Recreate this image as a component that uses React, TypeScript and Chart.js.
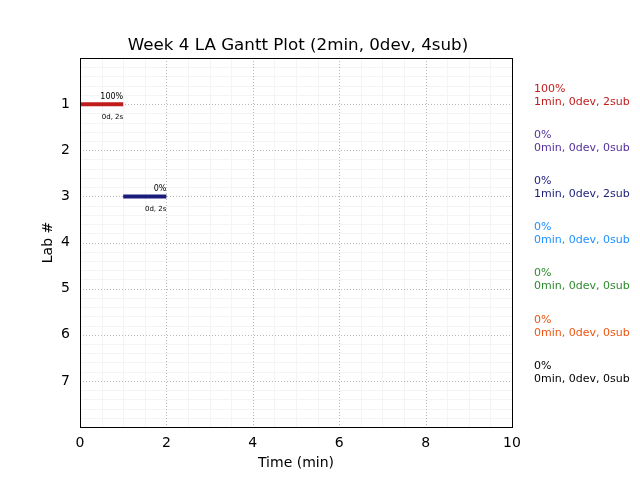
import React, { useEffect, useRef } from "react";
import { Chart, registerables } from "chart.js";

Chart.register(...registerables);

const labs = [1, 2, 3, 4, 5, 6, 7];
const labColors = ["#c01c1c", "#54309f", "#1c1c7a", "#1e90ff", "#2e8b2e", "#ee5511", "#000000"];
const barStarts: (number | null)[] = [0, null, 1, null, null, null, null];
const barEnds: (number | null)[] = [1, null, 2, null, null, null, null];
const barPctLabels = ["100%", "", "0%", "", "", "", ""];
const barTimeLabels = ["0d, 2s", "", "0d, 2s", "", "", "", ""];
const sidePct = ["100%", "0%", "0%", "0%", "0%", "0%", "0%"];
const sideSummary = [
  "1min, 0dev, 2sub",
  "0min, 0dev, 0sub",
  "1min, 0dev, 2sub",
  "0min, 0dev, 0sub",
  "0min, 0dev, 0sub",
  "0min, 0dev, 0sub",
  "0min, 0dev, 0sub",
];
const xTicks = [0, 2, 4, 6, 8, 10];
const titleText = "Week 4 LA Gantt Plot (2min, 0dev, 4sub)";
const xTitle = "Time (min)";
const yTitle = "Lab #";

const FONT = "'DejaVu Sans', sans-serif";

const mplPlugin = {
  id: "mplDecor",
  beforeDatasetsDraw(chart: any) {
    const { ctx, chartArea, scales } = chart;
    const { left, right, top, bottom } = chartArea;
    const x = scales.x;
    const y = scales.y;
    ctx.save();
    // minor grid
    ctx.strokeStyle = "#f4f4f4";
    ctx.lineWidth = 1;
    ctx.setLineDash([]);
    for (let v = 0.5; v < 10; v += 0.5) {
      if (Math.abs(v % 2) < 1e-6) continue;
      const px = Math.round(x.getPixelForValue(v)) + 0.5;
      ctx.beginPath();
      ctx.moveTo(px, top);
      ctx.lineTo(px, bottom);
      ctx.stroke();
    }
    for (let i = 1; i < 40; i++) {
      if (i % 5 === 0) continue;
      const v = i * 0.2;
      const py = Math.round(y.getPixelForValue(v)) + 0.5;
      ctx.beginPath();
      ctx.moveTo(left, py);
      ctx.lineTo(right, py);
      ctx.stroke();
    }
    // major grid
    ctx.strokeStyle = "#b8b8b8";
    ctx.setLineDash([1, 2]);
    for (const v of xTicks) {
      if (v === 0 || v === 10) continue;
      const px = Math.round(x.getPixelForValue(v)) + 0.5;
      ctx.beginPath();
      ctx.moveTo(px, top);
      ctx.lineTo(px, bottom);
      ctx.stroke();
    }
    for (const v of labs) {
      const py = Math.round(y.getPixelForValue(v)) + 0.5;
      ctx.beginPath();
      ctx.moveTo(left, py);
      ctx.lineTo(right, py);
      ctx.stroke();
    }
    ctx.restore();
  },
  afterDraw(chart: any) {
    const { ctx, chartArea, scales } = chart;
    const { left, right, top, bottom } = chartArea;
    const x = scales.x;
    const y = scales.y;
    ctx.save();
    // frame
    ctx.strokeStyle = "#000";
    ctx.lineWidth = 1;
    ctx.setLineDash([]);
    ctx.strokeRect(Math.round(left) + 0.5, Math.round(top) + 0.5, Math.round(right - left), Math.round(bottom - top));

    ctx.fillStyle = "#000";
    ctx.textBaseline = "middle";
    // title
    ctx.textAlign = "center";
    ctx.font = `16.7px ${FONT}`;
    ctx.fillText(titleText, (left + right) / 2 + 2, top - 12);
    // x title
    ctx.font = `14px ${FONT}`;
    ctx.fillText(xTitle, (left + right) / 2, bottom + 36);
    // y title
    ctx.save();
    ctx.translate(left - 32, (top + bottom) / 2);
    ctx.rotate(-Math.PI / 2);
    ctx.fillText(yTitle, 0, 0);
    ctx.restore();

    // bar labels
    labs.forEach((lab, i) => {
      const end = barEnds[i];
      if (end === null) return;
      const px = x.getPixelForValue(end);
      const py = y.getPixelForValue(lab);
      ctx.fillStyle = "#000";
      ctx.textAlign = "right";
      ctx.font = `8px ${FONT}`;
      ctx.fillText(barPctLabels[i], px, py - 7);
      ctx.font = `7px ${FONT}`;
      ctx.fillText(barTimeLabels[i], px, py + 13);
    });

    // side labels
    labs.forEach((lab, i) => {
      const py = y.getPixelForValue(lab);
      ctx.fillStyle = labColors[i];
      ctx.textAlign = "left";
      ctx.font = `11px ${FONT}`;
      ctx.fillText(sidePct[i], right + 22, py - 15);
      ctx.fillText(sideSummary[i], right + 22, py - 2);
    });
    ctx.restore();
  },
};

export default function App() {
  const ref = useRef<HTMLCanvasElement | null>(null);
  useEffect(() => {
    if (!ref.current) return;
    const datasets = labs
      .map((lab, i) => {
        const s = barStarts[i];
        const e = barEnds[i];
        if (s === null || e === null) return null;
        return {
          label: `Lab ${lab}`,
          data: [
            { x: s, y: lab },
            { x: e, y: lab },
          ],
          showLine: true,
          borderColor: labColors[i],
          backgroundColor: labColors[i],
          borderWidth: 4,
          borderCapStyle: "butt",
          pointRadius: 0,
          pointHoverRadius: 0,
        };
      })
      .filter(Boolean) as any[];

    const chart = new Chart(ref.current, {
      type: "scatter",
      data: { datasets },
      options: {
        animation: false,
        responsive: false,
        events: [],
        layout: { padding: { left: 0, right: 128, top: 58, bottom: 0 } },
        plugins: {
          legend: { display: false },
          tooltip: { enabled: false },
          title: { display: false },
        },
        scales: {
          x: {
            type: "linear",
            min: 0,
            max: 10,
            afterFit: (s: any) => {
              s.height = 53;
            },
            afterBuildTicks: (s: any) => {
              s.ticks = xTicks.map((v) => ({ value: v }));
            },
            ticks: {
              color: "#000",
              font: { family: FONT, size: 14 },
              padding: 8,
              maxRotation: 0,
              autoSkip: false,
            },
            grid: { display: false, drawTicks: false },
            border: { display: false },
          },
          y: {
            type: "linear",
            min: 0,
            max: 8,
            reverse: true,
            afterFit: (s: any) => {
              s.width = 80;
            },
            afterBuildTicks: (s: any) => {
              s.ticks = labs.map((v) => ({ value: v }));
            },
            ticks: {
              color: "#000",
              font: { family: FONT, size: 14 },
              padding: 10,
              autoSkip: false,
            },
            grid: { display: false, drawTicks: false },
            border: { display: false },
          },
        },
      },
      plugins: [mplPlugin],
    } as any);
    return () => chart.destroy();
  }, []);

  return (
    <div style={{ position: "fixed", left: 0, top: 0, width: 640, height: 480, background: "#fff" }}>
      <canvas ref={ref} width={640} height={480} />
    </div>
  );
}
